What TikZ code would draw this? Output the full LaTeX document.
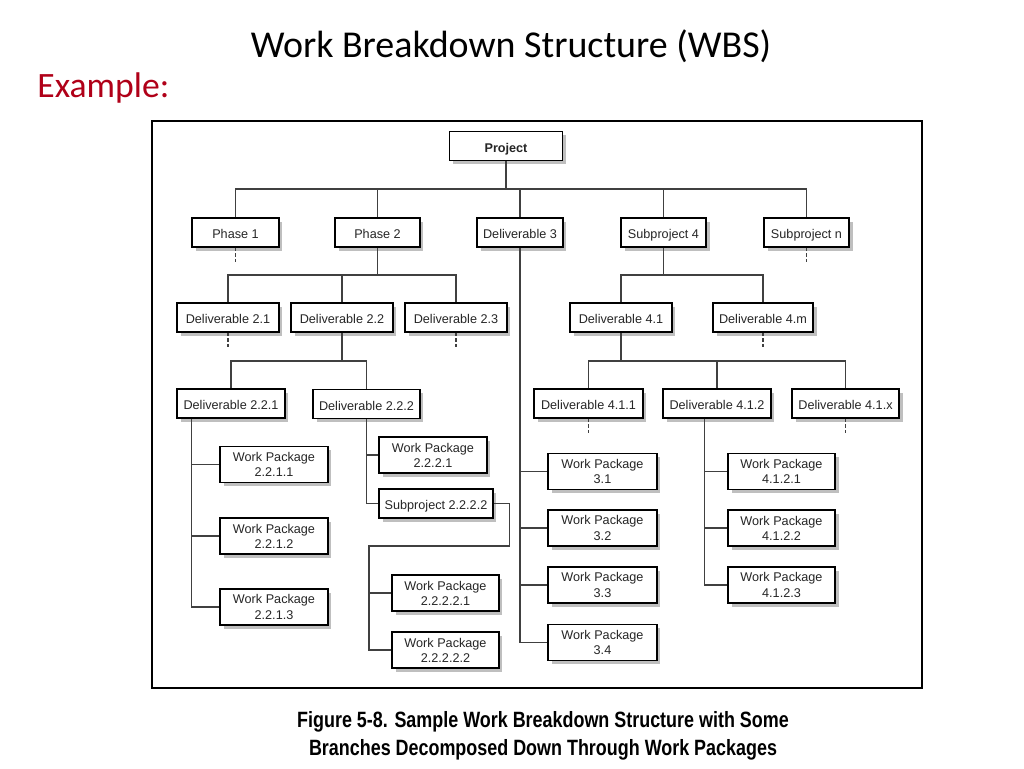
\documentclass[tikz,border=0pt]{standalone}
\usepackage{fontspec}
\setmainfont{Liberation Sans}
\newfontfamily\titlefont{Carlito}
\newfontfamily\capfont[FakeStretch=0.81]{Liberation Sans}
\usetikzlibrary{shadows}
\definecolor{linegray}{RGB}{64,64,64}
\definecolor{exred}{RGB}{176,0,24}
\tikzset{
  wbs/.style={draw=black, line width=0.7pt, fill=white, inner sep=1pt, text=black!85,
    font=\fontsize{7.2}{8.6}\selectfont,
    drop shadow={shadow xshift=0.7mm, shadow yshift=-0.7mm, fill=black!25, opacity=1}},
  lvl/.style={wbs, minimum height=0.58cm, text height=1.6ex, text depth=0.3ex},
  wp/.style={wbs, minimum height=0.72cm, align=center},
  link/.style={draw=linegray, line width=0.8pt},
  stub/.style={link, dash pattern=on 2pt off 1.2pt},
}

\begin{document}
\begin{tikzpicture}[x=0.02cm, y=-0.02cm]
    \useasboundingbox (0,0) rectangle (1024,768);
    % titles
    \node[font=\titlefont\fontsize{21.6}{26}\selectfont, anchor=base, inner sep=0pt] (title) at (511,57) {Work Breakdown Structure (WBS)};
    \node[font=\titlefont\fontsize{20.3}{24}\selectfont, text=exred, anchor=base west, inner sep=0pt] (example) at (37,97) {Example:};
    \draw[line width=1.4pt] (152,121) rectangle (922,688);
    % level 0 and 1
    \node[lvl, minimum width=2.26cm, font=\fontsize{7.2}{8.6}\selectfont\bfseries] (proj) at (506,146) {Project};
    \node[lvl, minimum width=1.74cm] (ph1) at (235.5,232.5) {Phase 1};
    \node[lvl, minimum width=1.70cm] (ph2) at (377.5,232.5) {Phase 2};
    \node[lvl, minimum width=1.72cm] (d3) at (520,232.5) {Deliverable 3};
    \node[lvl, minimum width=1.70cm] (s4) at (663.5,232.5) {Subproject 4};
    \node[lvl, minimum width=1.70cm] (sn) at (806.5,232.5) {Subproject n};
    % level 2
    \node[lvl, minimum width=2.04cm] (d21) at (228,317.5) {Deliverable 2.1};
    \node[lvl, minimum width=2.04cm] (d22) at (342,317.5) {Deliverable 2.2};
    \node[lvl, minimum width=2.04cm] (d23) at (456,317.5) {Deliverable 2.3};
    \node[lvl, minimum width=2.04cm] (d41) at (621,317.5) {Deliverable 4.1};
    \node[lvl, minimum width=2.00cm] (d4m) at (763,317.5) {Deliverable 4.m};
    % level 3
    \node[lvl, minimum width=2.16cm] (d221) at (231,403.5) {Deliverable 2.2.1};
    \node[lvl, minimum width=2.14cm] (d222) at (366.5,404) {Deliverable 2.2.2};
    \node[lvl, minimum width=2.18cm] (d411) at (588.5,403.5) {Deliverable 4.1.1};
    \node[lvl, minimum width=2.16cm] (d412) at (717,403.5) {Deliverable 4.1.2};
    \node[lvl, minimum width=2.14cm] (d41x) at (845.5,403.5) {Deliverable 4.1.x};
    % work packages
    \node[wp, minimum width=2.16cm] (w2211) at (274,464.5) {Work Package\\2.2.1.1};
    \node[wp, minimum width=2.16cm] (w2212) at (274,536) {Work Package\\2.2.1.2};
    \node[wp, minimum width=2.16cm] (w2213) at (274,607) {Work Package\\2.2.1.3};
    \node[wp, minimum width=2.16cm] (w2221) at (433,455) {Work Package\\2.2.2.1};
    \node[lvl, minimum width=2.28cm] (sp) at (436,503.5) {Subproject 2.2.2.2};
    \node[wp, minimum width=2.14cm] (w22221) at (445.5,593) {Work Package\\2.2.2.2.1};
    \node[wp, minimum width=2.14cm] (w22222) at (445.5,650) {Work Package\\2.2.2.2.2};
    \node[wp, minimum width=2.18cm] (w31) at (602.5,471.5) {Work Package\\3.1};
    \node[wp, minimum width=2.18cm] (w32) at (602.5,528) {Work Package\\3.2};
    \node[wp, minimum width=2.18cm] (w33) at (602.5,585) {Work Package\\3.3};
    \node[wp, minimum width=2.18cm] (w34) at (602.5,642.5) {Work Package\\3.4};
    \node[wp, minimum width=2.14cm] (w4121) at (781.5,471.5) {Work Package\\4.1.2.1};
    \node[wp, minimum width=2.14cm] (w4122) at (781.5,528) {Work Package\\4.1.2.2};
    \node[wp, minimum width=2.14cm] (w4123) at (781.5,585) {Work Package\\4.1.2.3};
    % buses
    \coordinate (b1) at (0,189);
    \coordinate (b2) at (0,275);
    \coordinate (b3) at (0,361);
    \draw[link] (proj.south) -- (proj.south |- b1);
    \draw[link] (ph1.north) |- (sn.north |- b1) -- (sn.north);
    \foreach \n in {ph2,d3,s4} \draw[link] (\n.north) -- (\n.north |- b1);
    \draw[link] (ph2.south) -- (ph2.south |- b2);
    \draw[link] (d21.north) |- (d23.north |- b2) -- (d23.north);
    \draw[link] (d22.north) -- (d22.north |- b2);
    \draw[link] (s4.south) -- (s4.south |- b2);
    \draw[link] (d41.north) |- (d4m.north |- b2) -- (d4m.north);
    \draw[link] (d22.south) -- (d22.south |- b3);
    \draw[link] (d221.north) |- (d222.north |- b3) -- (d222.north);
    \draw[link] (d41.south) -- (d41.south |- b3);
    \draw[link] (d411.north) |- (d41x.north |- b3) -- (d41x.north);
    \draw[link] (d412.north) -- (d412.north |- b3);
    \foreach \n in {ph1,sn,d21,d23,d4m,d411,d41x} \draw[stub] (\n.south) -- ++(0,16);
    % work package spines
    \draw[link] (d221.south west) ++(15,0) coordinate (s221) |- (w2213.west);
    \foreach \n in {w2211,w2212} \draw[link] (s221 |- \n.west) -- (\n.west);
    \draw[link] (d222.south) |- (sp.west);
    \draw[link] (d222.south |- w2221.west) -- (w2221.west);
    \coordinate (j2) at (369,546);
    \draw[link] (sp.east) -- ++(16,0) |- (j2) |- (w22222.west);
    \draw[link] (j2 |- w22221.west) -- (w22221.west);
    \draw[link] (d3.south) |- (w34.west);
    \foreach \n in {w31,w32,w33} \draw[link] (d3.south |- \n.west) -- (\n.west);
    \draw[link] (d412.south west) ++(42,0) coordinate (s412) |- (w4123.west);
    \foreach \n in {w4121,w4122} \draw[link] (s412 |- \n.west) -- (\n.west);
    % caption
    \node[font=\capfont\bfseries\fontsize{12.6}{16}\selectfont, anchor=base, inner sep=0pt] (cap1) at (543,727) {Figure 5-8. Sample Work Breakdown Structure with Some};
    \node[font=\capfont\bfseries\fontsize{12.6}{16}\selectfont, anchor=base, inner sep=0pt] (cap2) at (543,755) {Branches Decomposed Down Through Work Packages};
\end{tikzpicture}
\end{document}
